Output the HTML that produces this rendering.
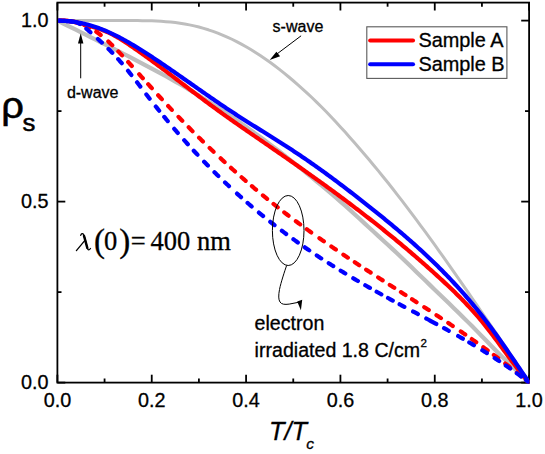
<!DOCTYPE html>
<html><head><meta charset="utf-8"><title>rho_s vs T/Tc</title>
<style>
html,body{margin:0;padding:0;background:#fff;}
body{width:545px;height:454px;overflow:hidden;font-family:"Liberation Sans",sans-serif;}
svg{display:block;}
text{font-family:"Liberation Sans",sans-serif;fill:#000;stroke:#000;stroke-width:0.3px;}
.ser{font-family:"Liberation Serif",serif;}
</style></head><body>
<svg width="545" height="454" viewBox="0 0 545 454">
<rect x="0" y="0" width="545" height="454" fill="#fff"/>
<g stroke="#000" stroke-width="1.8" fill="none">
<rect x="57.4" y="2.6" width="471.70" height="380.00"/>
<line x1="57.40" y1="382.6" x2="57.40" y2="374.70000000000005"/><line x1="57.40" y1="2.6" x2="57.40" y2="10.5"/><line x1="104.57" y1="382.6" x2="104.57" y2="378.5"/><line x1="104.57" y1="2.6" x2="104.57" y2="6.699999999999999"/><line x1="151.74" y1="382.6" x2="151.74" y2="374.70000000000005"/><line x1="151.74" y1="2.6" x2="151.74" y2="10.5"/><line x1="198.91" y1="382.6" x2="198.91" y2="378.5"/><line x1="198.91" y1="2.6" x2="198.91" y2="6.699999999999999"/><line x1="246.08" y1="382.6" x2="246.08" y2="374.70000000000005"/><line x1="246.08" y1="2.6" x2="246.08" y2="10.5"/><line x1="293.25" y1="382.6" x2="293.25" y2="378.5"/><line x1="293.25" y1="2.6" x2="293.25" y2="6.699999999999999"/><line x1="340.42" y1="382.6" x2="340.42" y2="374.70000000000005"/><line x1="340.42" y1="2.6" x2="340.42" y2="10.5"/><line x1="387.59" y1="382.6" x2="387.59" y2="378.5"/><line x1="387.59" y1="2.6" x2="387.59" y2="6.699999999999999"/><line x1="434.76" y1="382.6" x2="434.76" y2="374.70000000000005"/><line x1="434.76" y1="2.6" x2="434.76" y2="10.5"/><line x1="481.93" y1="382.6" x2="481.93" y2="378.5"/><line x1="481.93" y1="2.6" x2="481.93" y2="6.699999999999999"/><line x1="529.10" y1="382.6" x2="529.10" y2="374.70000000000005"/><line x1="529.10" y1="2.6" x2="529.10" y2="10.5"/><line x1="57.4" y1="382.60" x2="65.3" y2="382.60"/><line x1="529.1" y1="382.60" x2="521.2" y2="382.60"/><line x1="57.4" y1="292.10" x2="61.5" y2="292.10"/><line x1="529.1" y1="292.10" x2="525.0" y2="292.10"/><line x1="57.4" y1="201.60" x2="65.3" y2="201.60"/><line x1="529.1" y1="201.60" x2="521.2" y2="201.60"/><line x1="57.4" y1="111.10" x2="61.5" y2="111.10"/><line x1="529.1" y1="111.10" x2="525.0" y2="111.10"/><line x1="57.4" y1="20.60" x2="65.3" y2="20.60"/><line x1="529.1" y1="20.60" x2="521.2" y2="20.60"/>
</g>
<clipPath id="cp"><rect x="58.199999999999996" y="2.6" width="471.10" height="380.90"/></clipPath>
<g fill="none" stroke-linejoin="round" clip-path="url(#cp)">
<path d="M57.40,20.60 L66.83,20.60 L71.55,20.60 L76.27,20.59 L80.98,20.59 L85.70,20.58 L90.42,20.58 L95.14,20.57 L99.85,20.56 L104.57,20.56 L109.29,20.55 L114.00,20.54 L118.72,20.53 L123.44,20.53 L128.16,20.53 L132.87,20.54 L137.59,20.57 L142.31,20.63 L147.02,20.72 L151.74,20.85 L156.46,21.04 L161.17,21.30 L165.89,21.64 L170.61,22.06 L175.33,22.59 L180.04,23.22 L184.76,23.98 L189.48,24.86 L194.19,25.88 L198.91,27.05 L203.63,28.35 L208.34,29.80 L213.06,31.39 L217.78,33.13 L222.50,35.02 L227.21,37.06 L231.93,39.25 L236.65,41.60 L241.36,44.11 L246.08,46.77 L250.80,49.57 L255.51,52.50 L260.23,55.57 L264.95,58.77 L269.67,62.10 L274.38,65.57 L279.10,69.17 L283.82,72.90 L288.53,76.75 L293.25,80.74 L297.97,84.83 L302.68,89.03 L307.40,93.33 L312.12,97.76 L316.84,102.30 L321.55,106.99 L326.27,111.80 L330.99,116.73 L335.70,121.77 L340.42,126.90 L345.14,132.11 L349.85,137.40 L354.57,142.75 L359.29,148.18 L364.00,153.69 L368.72,159.27 L373.44,164.92 L378.16,170.64 L382.87,176.44 L387.59,182.31 L392.31,188.26 L397.02,194.31 L401.74,200.44 L406.46,206.63 L411.18,212.89 L415.89,219.19 L420.61,225.54 L425.33,231.96 L430.04,238.42 L434.76,244.94 L439.48,251.52 L444.19,258.16 L448.91,264.85 L453.63,271.58 L458.35,278.31 L463.06,285.09 L467.78,291.92 L472.50,298.79 L477.21,305.68 L481.93,312.57 L486.65,319.44 L491.36,326.28 L496.08,333.12 L500.80,340.00 L505.52,346.96 L510.23,353.99 L514.95,361.06 L519.67,368.18 L524.38,375.36 L526.74,378.97 L529.10,382.60" stroke="#bebebe" stroke-width="3.0"/>
<path d="M57.40,20.60 L66.83,25.29 L71.55,27.64 L76.27,29.99 L80.98,32.34 L85.70,34.69 L90.42,37.05 L95.14,39.42 L99.85,41.78 L104.57,44.16 L109.29,46.54 L114.00,48.93 L118.72,51.33 L123.44,53.75 L128.16,56.17 L132.87,58.61 L137.59,61.07 L142.31,63.54 L147.02,66.04 L151.74,68.55 L156.46,71.10 L161.17,73.67 L165.89,76.28 L170.61,78.91 L175.33,81.58 L180.04,84.29 L184.76,87.04 L189.48,89.83 L194.19,92.66 L198.91,95.53 L203.63,98.45 L208.34,101.42 L213.06,104.43 L217.78,107.48 L222.50,110.58 L227.21,113.73 L231.93,116.93 L236.65,120.17 L241.36,123.45 L246.08,126.78 L250.80,130.16 L255.51,133.58 L260.23,137.04 L264.95,140.54 L269.67,144.08 L274.38,147.67 L279.10,151.29 L283.82,154.95 L288.53,158.65 L293.25,162.39 L297.97,166.16 L302.68,169.96 L307.40,173.80 L312.12,177.67 L316.84,181.57 L321.55,185.51 L326.27,189.47 L330.99,193.46 L335.70,197.49 L340.42,201.54 L345.14,205.66 L349.85,209.89 L354.57,214.18 L359.29,218.52 L364.00,222.87 L368.72,227.20 L373.44,231.51 L378.16,235.83 L382.87,240.17 L387.59,244.52 L392.31,248.91 L397.02,253.32 L401.74,257.79 L406.46,262.30 L411.18,266.84 L415.89,271.41 L420.61,275.98 L425.33,280.56 L430.04,285.12 L434.76,289.65 L439.48,294.19 L444.19,298.74 L448.91,303.32 L453.63,307.92 L458.35,312.54 L463.06,317.19 L467.78,321.87 L472.50,326.59 L477.21,331.37 L481.93,336.20 L486.65,341.05 L491.36,345.92 L496.08,350.78 L500.80,355.50 L505.52,360.05 L510.23,364.52 L514.95,369.02 L519.67,373.57 L524.38,378.09 L526.74,380.34 L529.10,382.60" stroke="#bebebe" stroke-width="4.2"/>
<path d="M57.60,20.70 L59.18,20.64 L60.75,20.63 L62.33,20.65 L63.91,20.71 L65.48,20.80 L67.06,20.93 L68.64,21.10 L70.21,21.30 L71.79,21.53 L73.37,21.80 L74.94,22.09 L76.52,22.42 L78.10,22.77 L79.67,23.15 L81.25,23.54 L82.83,23.96 L84.40,24.40 L85.98,24.84 L87.56,25.30 L89.13,25.77 L90.71,26.24 L92.28,26.72 L93.86,27.20 L95.44,27.70 L97.01,28.21 L98.59,28.74 L100.17,29.29 L101.74,29.86 L103.32,30.46 L104.90,31.08 L106.47,31.74 L108.05,32.43 L109.63,33.16 L111.20,33.92 L112.78,34.73 L114.36,35.57 L115.93,36.45 L117.51,37.36 L119.09,38.29 L120.66,39.25 L122.24,40.24 L123.82,41.25 L125.39,42.27 L126.97,43.31 L128.55,44.36 L130.12,45.43 L131.70,46.50 L133.28,47.58 L134.85,48.66 L136.43,49.76 L138.01,50.86 L139.58,51.97 L141.16,53.08 L142.74,54.21 L144.31,55.33 L145.89,56.47 L147.47,57.61 L149.04,58.75 L150.62,59.90 L152.20,61.06 L153.77,62.21 L155.35,63.38 L156.93,64.55 L158.50,65.72 L160.08,66.89 L161.65,68.07 L163.23,69.25 L164.81,70.44 L166.38,71.63 L167.96,72.82 L169.54,74.01 L171.11,75.20 L172.69,76.40 L174.27,77.59 L175.84,78.79 L177.42,79.99 L179.00,81.19 L180.57,82.39 L182.15,83.59 L183.73,84.79 L185.30,85.99 L186.88,87.19 L188.46,88.39 L190.03,89.59 L191.61,90.78 L193.19,91.98 L194.76,93.17 L196.34,94.36 L197.92,95.55 L199.49,96.74 L201.07,97.92 L202.65,99.10 L204.22,100.28 L205.80,101.45 L207.38,102.62 L208.95,103.78 L210.53,104.94 L212.11,106.10 L213.68,107.25 L215.26,108.40 L216.84,109.55 L218.41,110.69 L219.99,111.82 L221.57,112.96 L223.14,114.09 L224.72,115.21 L226.29,116.34 L227.87,117.46 L229.45,118.57 L231.02,119.69 L232.60,120.80 L234.18,121.91 L235.75,123.01 L237.33,124.12 L238.91,125.22 L240.48,126.32 L242.06,127.41 L243.64,128.51 L245.21,129.60 L246.79,130.70 L248.37,131.79 L249.94,132.88 L251.52,133.96 L253.10,135.05 L254.67,136.14 L256.25,137.22 L257.83,138.31 L259.40,139.39 L260.98,140.48 L262.56,141.56 L264.13,142.64 L265.71,143.73 L267.29,144.81 L268.86,145.89 L270.44,146.98 L272.02,148.06 L273.59,149.15 L275.17,150.23 L276.75,151.32 L278.32,152.41 L279.90,153.50 L281.48,154.59 L283.05,155.68 L284.63,156.77 L286.21,157.87 L287.78,158.96 L289.36,160.06 L290.94,161.16 L292.51,162.26 L294.09,163.36 L295.66,164.46 L297.24,165.57 L298.82,166.67 L300.39,167.78 L301.97,168.89 L303.55,170.00 L305.12,171.12 L306.70,172.23 L308.28,173.35 L309.85,174.47 L311.43,175.59 L313.01,176.72 L314.58,177.85 L316.16,178.97 L317.74,180.10 L319.31,181.24 L320.89,182.37 L322.47,183.51 L324.04,184.65 L325.62,185.80 L327.20,186.94 L328.77,188.09 L330.35,189.24 L331.93,190.39 L333.50,191.55 L335.08,192.71 L336.66,193.87 L338.23,195.04 L339.81,196.20 L341.39,197.37 L342.96,198.55 L344.54,199.72 L346.12,200.90 L347.69,202.09 L349.27,203.27 L350.85,204.46 L352.42,205.65 L354.00,206.85 L355.58,208.05 L357.15,209.25 L358.73,210.45 L360.31,211.66 L361.88,212.88 L363.46,214.09 L365.03,215.31 L366.61,216.54 L368.19,217.76 L369.76,218.99 L371.34,220.23 L372.92,221.47 L374.49,222.71 L376.07,223.96 L377.65,225.21 L379.22,226.46 L380.80,227.72 L382.38,228.98 L383.95,230.25 L385.53,231.52 L387.11,232.79 L388.68,234.07 L390.26,235.35 L391.84,236.64 L393.41,237.93 L394.99,239.23 L396.57,240.53 L398.14,241.84 L399.72,243.15 L401.30,244.46 L402.87,245.78 L404.45,247.11 L406.03,248.44 L407.60,249.77 L409.18,251.11 L410.76,252.45 L412.33,253.80 L413.91,255.15 L415.49,256.51 L417.06,257.88 L418.64,259.25 L420.22,260.62 L421.79,262.00 L423.37,263.38 L424.95,264.77 L426.52,266.17 L428.10,267.57 L429.67,268.97 L431.25,270.38 L432.83,271.80 L434.40,273.22 L435.98,274.65 L437.56,276.08 L439.13,277.52 L440.71,278.97 L442.29,280.42 L443.86,281.88 L445.44,283.34 L447.02,284.82 L448.59,286.30 L450.17,287.80 L451.75,289.30 L453.32,290.82 L454.90,292.36 L456.48,293.90 L458.05,295.46 L459.63,297.04 L461.21,298.63 L462.78,300.24 L464.36,301.87 L465.94,303.52 L467.51,305.19 L469.09,306.88 L470.67,308.59 L472.24,310.32 L473.82,312.08 L475.40,313.86 L476.97,315.67 L478.55,317.50 L480.13,319.36 L481.70,321.25 L483.28,323.17 L484.86,325.12 L486.43,327.09 L488.01,329.10 L489.59,331.14 L491.16,333.20 L492.74,335.28 L494.32,337.38 L495.89,339.49 L497.47,341.62 L499.04,343.76 L500.62,345.91 L502.20,348.06 L503.77,350.21 L505.35,352.36 L506.93,354.50 L508.50,356.64 L510.08,358.77 L511.66,360.88 L513.23,362.98 L514.81,365.06 L516.39,367.11 L517.96,369.14 L519.54,371.14 L521.12,373.11 L522.69,375.05 L524.27,376.95 L525.85,378.81 L527.42,380.63 L529.00,382.40" stroke="#ff0000" stroke-width="4.2" stroke-linecap="round"/>
<path d="M84.55,25.17 L85.42,25.56 L86.36,25.99 L87.31,26.45 L88.25,26.93 L89.19,27.43 L89.40,27.54 M96.30,31.80 L97.21,32.43 L98.15,33.11 L99.09,33.80 L100.04,34.52 L100.65,34.99 M108.33,41.54 L109.23,42.38 L110.17,43.27 L111.12,44.17 L112.06,45.08 L112.25,45.26 M118.34,51.41 L119.25,52.37 L120.19,53.36 L121.14,54.36 L122.05,55.34 M128.19,62.01 L129.03,62.95 L129.98,63.99 L130.92,65.03 L131.81,66.01 M139.19,74.21 L140.12,75.23 L141.06,76.28 L142.00,77.33 L142.81,78.22 M148.19,84.21 L149.07,85.19 L150.02,86.23 L150.96,87.27 L151.81,88.21 M158.17,95.21 L159.09,96.21 L160.04,97.24 L160.98,98.26 L161.83,99.18 M168.15,105.97 L169.00,106.87 L169.94,107.88 L170.88,108.87 L171.83,109.87 L171.85,109.90 M178.53,116.89 L179.37,117.77 L180.31,118.74 L181.26,119.72 L182.20,120.69 L182.28,120.77 M188.70,127.33 L189.63,128.26 L190.57,129.22 L191.51,130.16 L192.45,131.11 L192.50,131.16 M199.07,137.69 L200.00,138.60 L200.94,139.53 L201.88,140.45 L202.83,141.37 L202.93,141.47 M209.65,147.97 L210.49,148.78 L211.43,149.68 L212.38,150.57 L213.32,151.47 L213.56,151.70 M220.62,158.33 L221.45,159.10 L222.40,159.98 L223.34,160.85 L224.28,161.72 L224.58,162.00 M230.99,167.84 L231.83,168.59 L232.77,169.44 L233.71,170.29 L234.65,171.14 L235.01,171.45 M241.57,177.26 L242.44,178.02 L243.38,178.84 L244.32,179.66 L245.26,180.48 L245.64,180.81 M251.94,186.22 L252.81,186.96 L253.75,187.76 L254.69,188.55 L255.64,189.35 L256.06,189.71 M262.91,195.40 L263.77,196.11 L264.71,196.88 L265.66,197.65 L266.60,198.42 L267.09,198.82 M273.49,203.97 L274.38,204.68 L275.32,205.43 L276.27,206.17 L277.21,206.92 L277.72,207.32 M284.26,212.41 L285.11,213.07 L286.05,213.79 L286.99,214.51 L287.94,215.23 L288.55,215.70 M295.83,221.19 L296.66,221.80 L297.60,222.50 L298.55,223.20 L299.49,223.90 L300.17,224.40 M306.81,229.25 L307.74,229.92 L308.68,230.60 L309.63,231.28 L310.57,231.96 L311.19,232.41 M319.39,238.22 L320.24,238.81 L321.18,239.47 L322.12,240.13 L323.06,240.79 L323.81,241.31 M331.37,246.53 L332.26,247.14 L333.20,247.78 L334.15,248.43 L335.09,249.07 L335.83,249.57 M343.36,254.65 L344.28,255.27 L345.23,255.90 L346.17,256.53 L347.11,257.16 L347.85,257.65 M354.75,262.22 L355.60,262.79 L356.54,263.41 L357.49,264.03 L358.43,264.65 L359.26,265.19 M366.14,269.69 L367.03,270.27 L367.98,270.88 L368.92,271.50 L369.86,272.11 L370.66,272.63 M378.13,277.46 L379.06,278.06 L380.00,278.66 L380.94,279.27 L381.89,279.88 L382.67,280.38 M389.73,284.92 L390.61,285.49 L391.55,286.09 L392.50,286.70 L393.44,287.30 L394.27,287.84 M400.93,292.11 L401.81,292.68 L402.75,293.28 L403.69,293.89 L404.64,294.50 L405.47,295.03 M412.03,299.25 L412.89,299.81 L413.83,300.42 L414.77,301.02 L415.72,301.63 L416.57,302.18 M424.24,307.15 L425.15,307.74 L426.09,308.36 L427.03,308.97 L427.98,309.59 L428.76,310.10 M436.45,315.14 L437.29,315.69 L438.23,316.32 L439.18,316.94 L440.12,317.56 L440.95,318.12 M448.26,322.98 L449.20,323.61 L450.14,324.25 L451.08,324.88 L452.02,325.51 L452.74,326.00 M460.77,331.46 L461.69,332.09 L462.63,332.74 L463.58,333.39 L464.52,334.04 L465.22,334.52 M471.79,339.09 L472.65,339.70 L473.60,340.36 L474.54,341.03 L475.48,341.69 L476.21,342.20 M483.31,347.28 L484.21,347.92 L485.15,348.61 L486.09,349.29 L487.03,349.97 L487.68,350.45 M493.83,354.96 L494.70,355.60 L495.64,356.30 L496.58,357.01 L497.53,357.71 L498.16,358.19 M505.26,363.56 L506.13,364.23 L507.07,364.95 L508.02,365.68 L508.96,366.41 L509.54,366.85 M516.89,372.61 L517.80,373.34 L518.74,374.09 L519.69,374.84 L520.63,375.60 L521.11,375.98 M57.60,20.70 L58.43,20.68 L59.37,20.67 L60.31,20.66 L61.25,20.65 L62.20,20.66 L63.14,20.68 L64.08,20.70 L65.03,20.74 L65.97,20.79 L66.91,20.85 L67.86,20.92 L68.80,21.01 L69.74,21.12 L70.68,21.24 L71.63,21.37 L72.57,21.53 L73.51,21.70 L74.46,21.89 L75.40,22.10 L76.34,22.33 L77.29,22.58 L78.23,22.85 L79.17,23.14 L80.00,23.41 M526.00,379.94 L526.88,380.66 L527.82,381.43 L528.76,382.21 L529.00,382.40" stroke="#ff0000" stroke-width="4.2" stroke-linecap="round"/>
<path d="M57.60,20.70 L59.18,20.71 L60.75,20.74 L62.33,20.80 L63.91,20.87 L65.48,20.96 L67.06,21.08 L68.64,21.22 L70.21,21.38 L71.79,21.56 L73.37,21.76 L74.94,21.98 L76.52,22.23 L78.10,22.49 L79.67,22.78 L81.25,23.09 L82.83,23.43 L84.40,23.79 L85.98,24.17 L87.56,24.57 L89.13,25.00 L90.71,25.45 L92.28,25.92 L93.86,26.41 L95.44,26.93 L97.01,27.48 L98.59,28.04 L100.17,28.63 L101.74,29.24 L103.32,29.87 L104.90,30.52 L106.47,31.19 L108.05,31.88 L109.63,32.59 L111.20,33.32 L112.78,34.06 L114.36,34.82 L115.93,35.61 L117.51,36.40 L119.09,37.21 L120.66,38.04 L122.24,38.89 L123.82,39.74 L125.39,40.62 L126.97,41.50 L128.55,42.40 L130.12,43.31 L131.70,44.24 L133.28,45.17 L134.85,46.12 L136.43,47.07 L138.01,48.04 L139.58,49.02 L141.16,50.00 L142.74,51.00 L144.31,52.00 L145.89,53.01 L147.47,54.02 L149.04,55.05 L150.62,56.08 L152.20,57.11 L153.77,58.15 L155.35,59.20 L156.93,60.25 L158.50,61.30 L160.08,62.36 L161.65,63.43 L163.23,64.50 L164.81,65.57 L166.38,66.65 L167.96,67.73 L169.54,68.81 L171.11,69.90 L172.69,70.99 L174.27,72.08 L175.84,73.17 L177.42,74.27 L179.00,75.37 L180.57,76.47 L182.15,77.57 L183.73,78.67 L185.30,79.77 L186.88,80.88 L188.46,81.99 L190.03,83.09 L191.61,84.20 L193.19,85.30 L194.76,86.41 L196.34,87.52 L197.92,88.62 L199.49,89.72 L201.07,90.83 L202.65,91.93 L204.22,93.03 L205.80,94.13 L207.38,95.22 L208.95,96.32 L210.53,97.41 L212.11,98.50 L213.68,99.58 L215.26,100.67 L216.84,101.75 L218.41,102.82 L219.99,103.89 L221.57,104.96 L223.14,106.03 L224.72,107.09 L226.29,108.14 L227.87,109.19 L229.45,110.24 L231.02,111.28 L232.60,112.31 L234.18,113.34 L235.75,114.37 L237.33,115.39 L238.91,116.41 L240.48,117.42 L242.06,118.43 L243.64,119.44 L245.21,120.44 L246.79,121.44 L248.37,122.44 L249.94,123.43 L251.52,124.42 L253.10,125.41 L254.67,126.40 L256.25,127.39 L257.83,128.38 L259.40,129.37 L260.98,130.35 L262.56,131.34 L264.13,132.32 L265.71,133.31 L267.29,134.30 L268.86,135.28 L270.44,136.27 L272.02,137.26 L273.59,138.25 L275.17,139.24 L276.75,140.24 L278.32,141.24 L279.90,142.24 L281.48,143.24 L283.05,144.25 L284.63,145.25 L286.21,146.27 L287.78,147.28 L289.36,148.30 L290.94,149.33 L292.51,150.36 L294.09,151.40 L295.66,152.44 L297.24,153.48 L298.82,154.53 L300.39,155.59 L301.97,156.65 L303.55,157.72 L305.12,158.80 L306.70,159.88 L308.28,160.97 L309.85,162.06 L311.43,163.16 L313.01,164.26 L314.58,165.37 L316.16,166.49 L317.74,167.61 L319.31,168.73 L320.89,169.86 L322.47,171.00 L324.04,172.14 L325.62,173.29 L327.20,174.44 L328.77,175.59 L330.35,176.75 L331.93,177.92 L333.50,179.09 L335.08,180.26 L336.66,181.44 L338.23,182.62 L339.81,183.81 L341.39,185.00 L342.96,186.19 L344.54,187.39 L346.12,188.60 L347.69,189.80 L349.27,191.01 L350.85,192.23 L352.42,193.45 L354.00,194.67 L355.58,195.89 L357.15,197.12 L358.73,198.35 L360.31,199.59 L361.88,200.83 L363.46,202.07 L365.03,203.31 L366.61,204.56 L368.19,205.81 L369.76,207.06 L371.34,208.32 L372.92,209.57 L374.49,210.83 L376.07,212.10 L377.65,213.37 L379.22,214.64 L380.80,215.91 L382.38,217.19 L383.95,218.47 L385.53,219.76 L387.11,221.05 L388.68,222.35 L390.26,223.65 L391.84,224.96 L393.41,226.28 L394.99,227.59 L396.57,228.92 L398.14,230.25 L399.72,231.59 L401.30,232.93 L402.87,234.28 L404.45,235.64 L406.03,237.00 L407.60,238.37 L409.18,239.75 L410.76,241.14 L412.33,242.53 L413.91,243.94 L415.49,245.35 L417.06,246.77 L418.64,248.19 L420.22,249.63 L421.79,251.08 L423.37,252.53 L424.95,254.00 L426.52,255.47 L428.10,256.96 L429.67,258.45 L431.25,259.96 L432.83,261.48 L434.40,263.00 L435.98,264.54 L437.56,266.09 L439.13,267.65 L440.71,269.22 L442.29,270.81 L443.86,272.40 L445.44,274.01 L447.02,275.63 L448.59,277.27 L450.17,278.92 L451.75,280.58 L453.32,282.26 L454.90,283.95 L456.48,285.66 L458.05,287.38 L459.63,289.12 L461.21,290.87 L462.78,292.65 L464.36,294.44 L465.94,296.24 L467.51,298.07 L469.09,299.91 L470.67,301.77 L472.24,303.65 L473.82,305.55 L475.40,307.47 L476.97,309.41 L478.55,311.37 L480.13,313.36 L481.70,315.36 L483.28,317.38 L484.86,319.43 L486.43,321.50 L488.01,323.59 L489.59,325.70 L491.16,327.83 L492.74,329.99 L494.32,332.16 L495.89,334.34 L497.47,336.55 L499.04,338.77 L500.62,341.00 L502.20,343.24 L503.77,345.50 L505.35,347.77 L506.93,350.05 L508.50,352.34 L510.08,354.63 L511.66,356.93 L513.23,359.24 L514.81,361.55 L516.39,363.87 L517.96,366.19 L519.54,368.51 L521.12,370.83 L522.69,373.15 L524.27,375.47 L525.85,377.78 L527.42,380.09 L529.00,382.40" stroke="#0000ff" stroke-width="4.2" stroke-linecap="round"/>
<path d="M86.35,28.73 L87.19,29.44 L88.13,30.25 L89.07,31.08 L90.02,31.91 L90.43,32.27 M97.91,38.96 L98.74,39.72 L99.68,40.59 L100.63,41.46 L101.57,42.33 L101.88,42.62 M108.49,48.98 L109.35,49.83 L110.29,50.78 L111.24,51.74 L112.18,52.71 L112.29,52.82 M118.21,59.17 L119.13,60.20 L120.08,61.27 L121.02,62.36 L121.77,63.23 M128.01,70.77 L128.92,71.90 L129.86,73.08 L130.80,74.27 L131.37,75.00 M137.06,82.32 L137.99,83.54 L138.94,84.77 L139.88,86.00 L140.34,86.60 M146.35,94.45 L147.19,95.53 L148.13,96.75 L149.07,97.97 L149.66,98.72 M155.81,106.52 L156.74,107.68 L157.68,108.85 L158.62,110.03 L159.19,110.73 M164.28,116.96 L165.11,117.96 L166.05,119.10 L166.99,120.23 L167.73,121.12 M174.24,128.81 L175.13,129.84 L176.07,130.94 L177.01,132.03 L177.77,132.90 M184.20,140.20 L185.03,141.13 L185.97,142.18 L186.91,143.23 L187.81,144.22 M193.76,150.73 L194.69,151.73 L195.64,152.74 L196.58,153.75 L197.45,154.67 M204.12,161.68 L204.95,162.54 L205.89,163.51 L206.84,164.48 L207.78,165.44 L207.89,165.55 M214.48,172.19 L215.32,173.03 L216.27,173.96 L217.21,174.89 L218.15,175.81 L218.33,175.98 M225.04,182.46 L225.93,183.31 L226.87,184.20 L227.82,185.09 L228.76,185.98 L228.97,186.17 M237.00,193.57 L237.84,194.33 L238.78,195.18 L239.72,196.03 L240.67,196.88 L241.01,197.18 M247.56,202.95 L248.45,203.72 L249.39,204.53 L250.33,205.34 L251.28,206.15 L251.65,206.47 M258.92,212.58 L259.76,213.28 L260.71,214.06 L261.65,214.84 L262.59,215.61 L263.09,216.01 M270.28,221.79 L271.20,222.51 L272.14,223.25 L273.08,223.99 L274.03,224.73 L274.53,225.12 M281.84,230.73 L282.75,231.41 L283.69,232.12 L284.64,232.83 L285.58,233.53 L286.16,233.97 M293.41,239.28 L294.30,239.92 L295.25,240.60 L296.19,241.28 L297.13,241.95 L297.80,242.42 M304.78,247.32 L305.62,247.90 L306.56,248.55 L307.50,249.20 L308.45,249.85 L309.23,250.38 M316.75,255.44 L317.64,256.03 L318.59,256.65 L319.53,257.27 L320.47,257.89 L321.26,258.40 M328.72,263.22 L329.55,263.75 L330.49,264.35 L331.43,264.94 L332.38,265.54 L333.28,266.11 M340.70,270.71 L341.57,271.25 L342.51,271.82 L343.46,272.40 L344.40,272.97 L345.31,273.52 M353.27,278.29 L354.18,278.83 L355.13,279.38 L356.07,279.94 L357.01,280.49 L357.93,281.02 M365.26,285.27 L366.09,285.75 L367.03,286.29 L367.98,286.82 L368.92,287.36 L369.86,287.90 L369.95,287.94 M376.64,291.72 L377.52,292.21 L378.47,292.73 L379.41,293.26 L380.35,293.78 L381.30,294.31 L381.36,294.34 M388.03,298.01 L388.96,298.52 L389.90,299.03 L390.85,299.55 L391.79,300.06 L392.73,300.57 L392.77,300.59 M399.62,304.29 L400.51,304.77 L401.45,305.28 L402.40,305.79 L403.34,306.29 L404.28,306.80 L404.38,306.85 M413.12,311.52 L413.95,311.96 L414.89,312.46 L415.84,312.97 L416.78,313.47 L417.72,313.97 L417.88,314.06 M444.03,328.15 L444.95,328.66 L445.89,329.18 L446.84,329.70 L447.78,330.22 L448.72,330.74 L448.76,330.76 M458.15,336.03 L458.98,336.50 L459.92,337.03 L460.87,337.57 L461.81,338.11 L462.75,338.65 L462.84,338.70 M469.27,342.44 L470.18,342.98 L471.12,343.53 L472.06,344.09 L473.01,344.65 L473.92,345.19 M482.30,350.28 L483.14,350.80 L484.09,351.38 L485.03,351.97 L485.97,352.56 L486.89,353.13 M494.64,358.09 L495.52,358.66 L496.47,359.28 L497.41,359.90 L498.35,360.52 L499.15,361.05 M505.78,365.51 L506.60,366.08 L507.55,366.73 L508.49,367.38 L509.43,368.04 L510.22,368.59 M516.82,373.29 L517.68,373.92 L518.63,374.61 L519.57,375.30 L520.51,375.99 L521.17,376.48 M426.30,318.56 L427.15,319.01 L428.10,319.52 L429.04,320.02 L429.98,320.53 L430.92,321.04 L431.87,321.55 L432.81,322.05 L433.75,322.56 L434.70,323.07 L435.64,323.58 L436.30,323.94 M57.60,20.70 L58.43,20.67 L59.37,20.66 L60.31,20.67 L61.25,20.69 L62.20,20.73 L63.14,20.78 L64.08,20.84 L65.03,20.91 L65.97,20.98 L66.91,21.05 L67.86,21.13 L68.80,21.20 L69.74,21.26 L70.68,21.32 L71.63,21.39 L72.57,21.47 L73.51,21.58 L74.46,21.75 L75.40,21.98 L76.34,22.28 L77.29,22.65 L78.23,23.08 L79.17,23.57 L80.00,24.04 M526.00,380.10 L526.88,380.77 L527.82,381.49 L528.76,382.22 L529.00,382.40" stroke="#0000ff" stroke-width="4.2" stroke-linecap="round"/>
</g>
<g font-size="19.8">
<text x="57.40" y="406.9" text-anchor="middle">0.0</text><text x="151.74" y="406.9" text-anchor="middle">0.2</text><text x="246.08" y="406.9" text-anchor="middle">0.4</text><text x="340.42" y="406.9" text-anchor="middle">0.6</text><text x="434.76" y="406.9" text-anchor="middle">0.8</text><text x="529.10" y="406.9" text-anchor="middle">1.0</text>
<text x="48.6" y="388.50" text-anchor="end">0.0</text><text x="48.6" y="207.50" text-anchor="end">0.5</text><text x="48.6" y="26.50" text-anchor="end">1.0</text>
</g>
<!-- legend -->
<rect x="366.8" y="26.8" width="140.1" height="51.6" fill="#fff" stroke="#5a5a5a" stroke-width="1.1"/>
<line x1="370.2" y1="40.5" x2="413" y2="40.5" stroke="#ff0000" stroke-width="4.1" stroke-linecap="round"/>
<line x1="370.2" y1="64.3" x2="413" y2="64.3" stroke="#0000ff" stroke-width="4.1" stroke-linecap="round"/>
<text x="418.4" y="47.0" font-size="19.9">Sample A</text>
<text x="418.4" y="71.0" font-size="19.9">Sample B</text>
<!-- annotations -->
<text x="272.6" y="31.9" font-size="16">s-wave</text>
<line x1="301.1" y1="35.8" x2="274" y2="56.2" stroke="#000" stroke-width="1"/>
<polygon points="269.7,59.9 276.4,51.8 280.1,56.3" fill="#000"/>
<text x="66.9" y="98.0" font-size="16">d-wave</text>
<line x1="80.7" y1="78.3" x2="80.7" y2="40" stroke="#000" stroke-width="1"/>
<polygon points="80.7,33.2 78.0,43.6 83.4,43.6" fill="#000"/>
<ellipse cx="288.2" cy="230.5" rx="15.8" ry="35" fill="none" stroke="#000" stroke-width="1"/>
<path d="M286.6,265.5 C284.6,271.5 281.0,282 279.5,289.5 C278.4,295.5 278.4,299.5 280.0,302 C281.6,304.4 284.5,304.7 289.2,304.1 L298.5,302.3" fill="none" stroke="#000" stroke-width="1"/>
<polygon points="300.9,310.2 297.2,301.4 302.2,299.8" fill="#000"/>
<text x="254.6" y="329.8" font-size="19.6">electron</text>
<text x="254.6" y="357.2" font-size="19.6">irradiated 1.8 C/cm<tspan font-size="11.6" dy="-10.3" dx="0.3">2</tspan></text>
<!-- axis titles -->
<text transform="translate(1.3,117.8) scale(1.07,0.99)" font-size="37.2" style="stroke-width:0.55px">ρ</text>
<text transform="translate(22.4,131.2) scale(1.03,0.96)" font-size="25" style="stroke-width:0.55px">s</text>
<text x="269.0" y="439.5" font-size="25.4" font-style="italic">T/T</text>
<text x="306.3" y="449" font-size="15.5" font-style="italic">c</text>
<!-- lambda -->
<g class="ser" font-size="26.5">
<g fill="none" stroke="#000" stroke-linecap="round" stroke-linejoin="round">
<path d="M80.7,235.3 C81.2,233.5 82.7,232.9 83.6,234.6 C85.0,237.5 86.3,244.5 87.4,248.2 C88.0,250.2 89.1,250.5 90.5,248.5" stroke-width="1.3"/>
<path d="M84.0,236.0 C85.2,239.5 86.3,244.5 87.3,247.8" stroke-width="2.4"/>
<path d="M84.7,240.6 L76.4,250.6" stroke-width="1.3"/>
</g>
<text x="94.0" y="252.0" font-size="33" class="ser">(</text>
<text x="104" y="250.4" class="ser">0</text>
<text x="119.2" y="252.0" font-size="33" class="ser">)</text>
<text x="130.8" y="250.4" class="ser">=</text>
<text x="150.6" y="250.4" class="ser">400 nm</text>
</g>
</svg>
</body></html>
